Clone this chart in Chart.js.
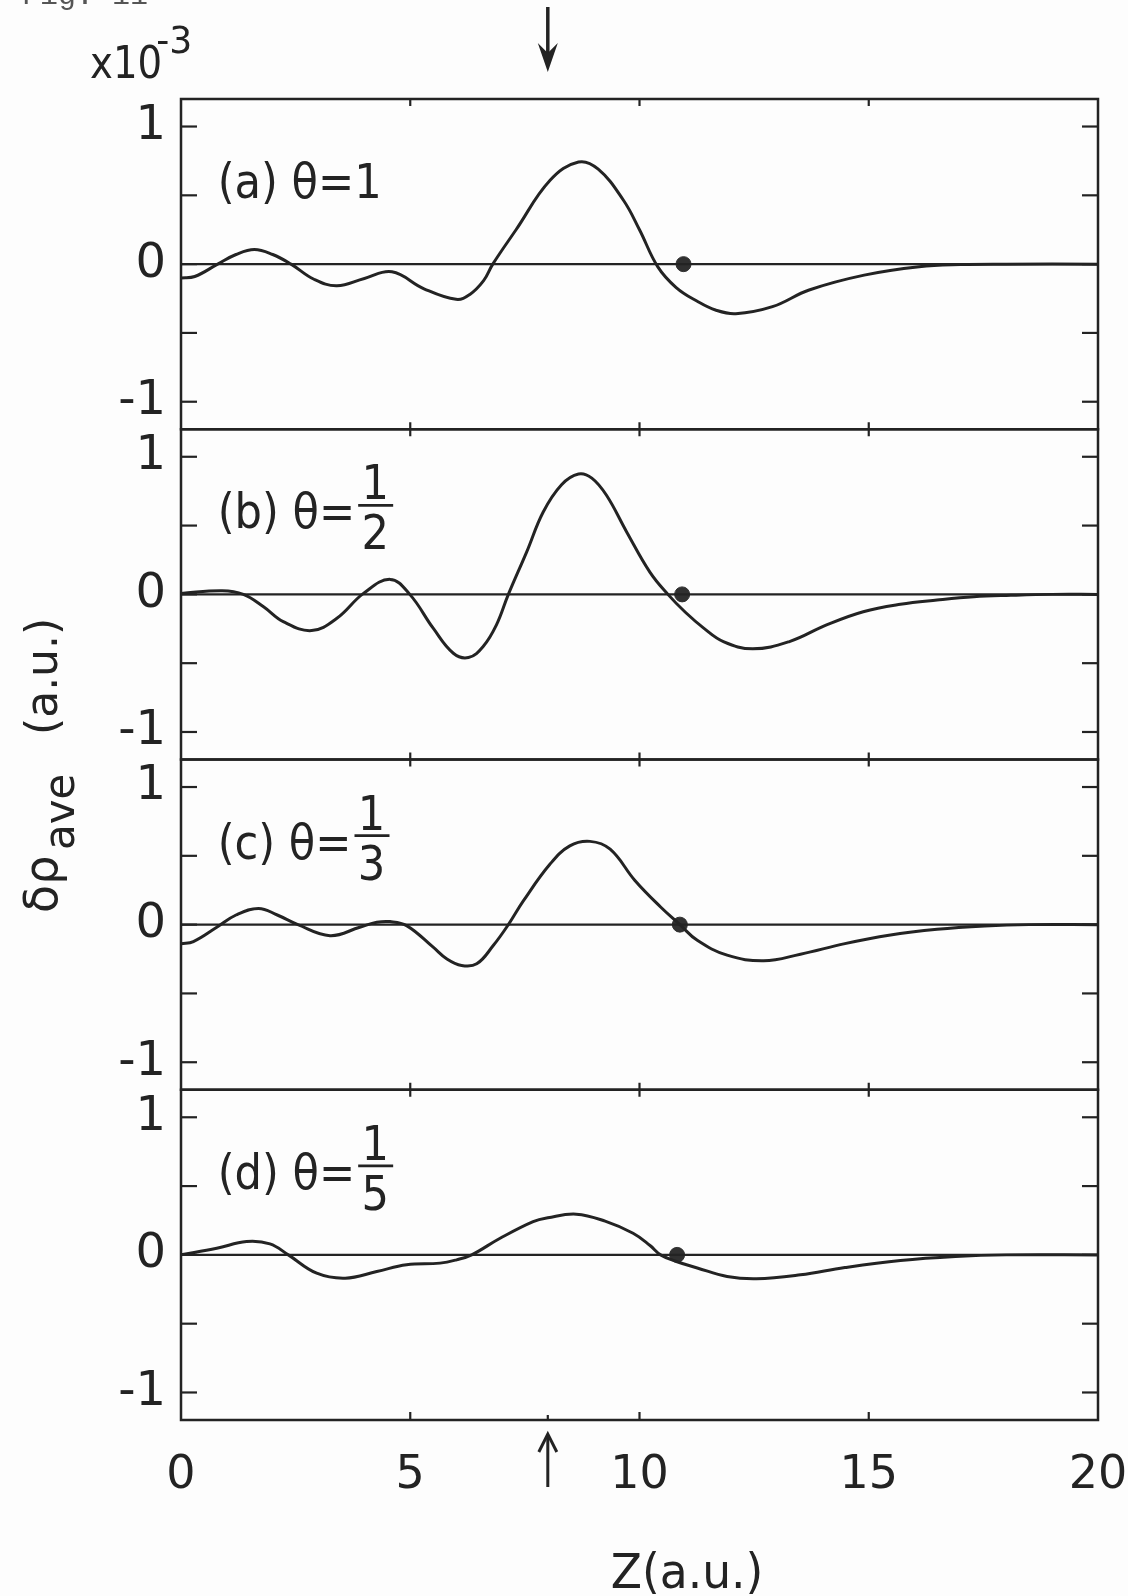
<!DOCTYPE html>
<html>
<head>
<meta charset="utf-8">
<script src="https://cdn.jsdelivr.net/npm/chart.js@4.4.1/dist/chart.umd.min.js"></script>
<style>
  html, body { margin: 0; padding: 0; background: #fdfdfd; }
  #wrap { width: 1128px; height: 1596px; }
</style>
</head>
<body>
<div id="wrap"><canvas id="fig" width="1128" height="1596"></canvas></div>
<script>
// Z (a.u.) positions and delta-rho_ave (x10^-3)
const zA   = [0, 0.3, 0.8, 1.2, 1.6, 2.0, 2.4, 2.9, 3.4, 4.0, 4.6, 5.3, 6.0, 6.3, 6.6, 6.8, 7.3, 8.05, 8.67, 9.1, 9.65, 10.0, 10.4, 10.8, 11.26, 11.67, 12.1, 12.9, 13.7, 14.9, 16.1, 17.0, 18.0, 20];
const rhoA = [-0.10, -0.09, 0.0, 0.07, 0.106, 0.07, 0.0, -0.11, -0.157, -0.104, -0.056, -0.179, -0.256, -0.22, -0.12, 0.0, 0.246, 0.609, 0.742, 0.69, 0.464, 0.25, -0.02, -0.17, -0.27, -0.335, -0.36, -0.309, -0.188, -0.080, -0.019, -0.003, 0, 0];

const zB   = [0, 0.9, 1.36, 1.8, 2.23, 2.85, 3.4, 3.98, 4.56, 4.99, 5.5, 5.94, 6.27, 6.59, 6.88, 7.14, 7.54, 7.9, 8.3, 8.67, 8.96, 9.28, 9.72, 10.23, 10.62, 11.0, 11.4, 11.83, 12.47, 13.27, 14.08, 14.88, 15.69, 16.49, 17.29, 18.1, 19, 20];
const rhoB = [0.007, 0.027, 0.0, -0.09, -0.198, -0.263, -0.174, 0.007, 0.109, 0.0, -0.246, -0.428, -0.459, -0.379, -0.222, 0.0, 0.309, 0.599, 0.797, 0.875, 0.845, 0.72, 0.454, 0.16, 0.0, -0.13, -0.245, -0.343, -0.396, -0.343, -0.222, -0.126, -0.072, -0.041, -0.017, -0.007, 0, 0];

const zC   = [0, 0.27, 0.78, 1.2, 1.69, 2.1, 2.55, 3.25, 3.9, 4.27, 4.56, 4.92, 5.5, 5.8, 6.12, 6.45, 6.81, 7.14, 7.47, 8.05, 8.48, 8.92, 9.36, 9.9, 10.46, 10.88, 11.26, 11.91, 12.71, 13.51, 14.48, 15.44, 16.49, 17.53, 18.5, 20];
const rhoC = [-0.14, -0.123, -0.019, 0.07, 0.118, 0.07, 0.0, -0.08, -0.019, 0.017, 0.022, -0.007, -0.164, -0.25, -0.297, -0.285, -0.152, 0.0, 0.174, 0.44, 0.572, 0.605, 0.548, 0.321, 0.128, 0.0, -0.114, -0.222, -0.263, -0.215, -0.138, -0.077, -0.034, -0.01, 0, 0];

const zD   = [0, 0.78, 1.43, 1.94, 2.34, 2.96, 3.58, 4.27, 4.92, 5.65, 6.01, 6.34, 6.96, 7.68, 8.0, 8.62, 9.25, 9.86, 10.23, 10.46, 10.82, 11.26, 11.91, 12.55, 13.51, 14.48, 15.69, 16.89, 18, 20];
const rhoD = [0, 0.048, 0.097, 0.08, 0.0, -0.133, -0.169, -0.121, -0.072, -0.06, -0.036, 0.0, 0.121, 0.242, 0.27, 0.296, 0.245, 0.157, 0.068, 0.0, -0.05, -0.095, -0.157, -0.174, -0.145, -0.092, -0.041, -0.012, 0, 0];

// filled dot on the zero line, one per panel
const dotZ = [10.96, 10.93, 10.88, 10.82];

const panelTags = ['(a)', '(b)', '(c)', '(d)'];
const thetaNum  = ['1', '1', '1', '1'];
const thetaDen  = [null, '2', '3', '5'];

const xTicks   = [0, 5, 10, 15, 20];
const xMarks   = [5, 10, 15];
const yTicks   = [-1, 0, 1];
const yMarks   = [-1, -0.5, 0, 0.5, 1];
const arrowZ   = 8;

const ink = '#232323';
const zs = [zA, zB, zC, zD];
const rhos = [rhoA, rhoB, rhoC, rhoD];
const ids = ['yA', 'yB', 'yC', 'yD'];

// text helper, sx squeezes glyphs horizontally; returns drawn width
function txt(ctx, s, x, y, size, align, sx) {
  sx = sx || 1;
  ctx.save();
  ctx.font = size + 'px "DejaVu Sans"';
  ctx.textAlign = align || 'left';
  ctx.textBaseline = 'alphabetic';
  ctx.translate(x, y);
  ctx.scale(sx, 1);
  ctx.fillText(s, 0, 0);
  const w = ctx.measureText(s).width * sx;
  ctx.restore();
  return w;
}

function seg(ctx, x1, y1, x2, y2) {
  ctx.beginPath();
  ctx.moveTo(x1, y1);
  ctx.lineTo(x2, y2);
  ctx.stroke();
}

const datasets = [];
ids.forEach((id, i) => {
  datasets.push({
    data: [{ x: 0, y: 0 }, { x: 20, y: 0 }],
    yAxisID: id, borderColor: ink, borderWidth: 2.2, pointRadius: 0,
  });
  datasets.push({
    data: zs[i].map((z, k) => ({ x: z, y: rhos[i][k] })),
    yAxisID: id, borderColor: ink, borderWidth: 3, pointRadius: 0,
    tension: 0.4,
  });
  datasets.push({
    data: [{ x: dotZ[i], y: 0 }],
    yAxisID: id, showLine: false, pointRadius: 7.5,
    pointBackgroundColor: '#303030', pointBorderColor: '#303030',
  });
});

const zeroPad = s => { s.paddingLeft = 0; s.paddingRight = 0; s.paddingTop = 0; s.paddingBottom = 0; };

const scales = {
  x: {
    type: 'linear', min: 0, max: 20, position: 'bottom',
    grid: { display: false, drawTicks: false }, border: { display: false },
    afterBuildTicks: s => { s.ticks = xTicks.map(v => ({ value: v })); },
    afterFit: s => { s.height = 176; zeroPad(s); },
    ticks: { color: ink, font: { family: 'DejaVu Sans', size: 46 }, padding: 28,
             maxRotation: 0, autoSkip: false, callback: v => String(v) },
  },
};
ids.forEach((id, i) => {
  scales[id] = {
    type: 'linear', position: 'left', stack: 'panels', stackWeight: 1, weight: 4 - i,
    min: -1.2, max: 1.2,
    grid: { display: false, drawTicks: false }, border: { display: false },
    afterBuildTicks: s => { s.ticks = yTicks.map(v => ({ value: v })); },
    afterFit: s => { s.width = 181; zeroPad(s); },
    ticks: { color: ink, font: { family: 'DejaVu Sans', size: 48 }, padding: 15,
             callback: v => String(v) },
  };
});

const figPlugin = {
  id: 'fig',
  beforeDraw(chart) {
    const ctx = chart.ctx;
    ctx.save();
    ctx.fillStyle = '#fdfdfd';
    ctx.fillRect(0, 0, chart.width, chart.height);
    ctx.restore();
  },
  afterDraw(chart) {
    const { ctx, chartArea: ca } = chart;
    const xs = chart.scales.x;
    ctx.save();
    ctx.strokeStyle = ink;
    ctx.fillStyle = ink;

    ids.forEach((id, i) => {
      const ys = chart.scales[id];
      ctx.lineWidth = 2.5;
      ctx.strokeRect(ca.left, ys.top, ca.right - ca.left, ys.bottom - ys.top);
      ctx.lineWidth = 2.2;
      yMarks.forEach(v => {
        const py = ys.getPixelForValue(v);
        seg(ctx, ca.left, py, ca.left + 16, py);
        seg(ctx, ca.right - 16, py, ca.right, py);
      });
      xMarks.forEach(v => {
        const px = xs.getPixelForValue(v);
        seg(ctx, px, ys.top - (i ? 7 : 0), px, ys.top + 7);
      });

      // panel label
      const lx = xs.getPixelForValue(0.8);
      const by = ys.getPixelForValue(0.48);
      const w = txt(ctx, panelTags[i] + ' θ=', lx, by, 48, 'left', 0.9);
      if (!thetaDen[i]) {
        txt(ctx, thetaNum[i], lx + w, by, 48, 'left', 0.9);
      } else {
        const fx = lx + w + 3;
        txt(ctx, thetaNum[i], fx + 17, by - 29, 48, 'center', 0.9);
        ctx.lineWidth = 2.6;
        seg(ctx, fx, by - 23, fx + 35, by - 23);
        txt(ctx, thetaDen[i], fx + 17, by + 21, 48, 'center', 0.9);
      }
    });

    // ticks on the bottom frame
    ctx.lineWidth = 2.2;
    xMarks.forEach(v => {
      const px = xs.getPixelForValue(v);
      seg(ctx, px, ca.bottom, px, ca.bottom - 8);
    });
    const ax = xs.getPixelForValue(arrowZ);
    seg(ctx, ax, ca.bottom, ax, ca.bottom - 5);

    // arrows marking Z = 8
    ctx.lineWidth = 3.5;
    seg(ctx, ax, 7, ax, 60);
    ctx.beginPath();
    ctx.moveTo(ax - 10, 43);
    ctx.lineTo(ax, 72);
    ctx.lineTo(ax + 10, 43);
    ctx.lineTo(ax, 53);
    ctx.closePath();
    ctx.fill();

    ctx.lineWidth = 3;
    seg(ctx, ax, 1436, ax, 1487);
    ctx.beginPath();
    ctx.moveTo(ax - 9, 1452);
    ctx.lineTo(ax, 1434);
    ctx.lineTo(ax + 9, 1452);
    ctx.stroke();

    // exponent
    const wx = txt(ctx, 'x10', 90, 78, 44, 'left', 0.88);
    txt(ctx, '-3', 90 + wx - 6, 53, 38, 'left', 0.95);

    // figure number, mostly cut off at the top edge
    ctx.fillStyle = '#555';
    ctx.font = '30px "Liberation Mono"';
    ctx.textAlign = 'left';
    ctx.textBaseline = 'alphabetic';
    ctx.fillText('Fig. 11', 22, 4);
    ctx.fillStyle = ink;

    // axis titles
    txt(ctx, 'Z(a.u.)', 687, 1588, 48, 'center', 0.95);

    ctx.save();
    ctx.translate(57, 913);
    ctx.rotate(-Math.PI / 2);
    txt(ctx, 'δρ', 0, 0, 46);
    txt(ctx, 'ave', 63, 17, 42);
    txt(ctx, '(a.u.)', 178, 0, 44);
    ctx.restore();

    ctx.restore();
  },
};

new Chart(document.getElementById('fig'), {
  type: 'line',
  data: { datasets },
  options: {
    responsive: false,
    animation: false,
    devicePixelRatio: 1,
    layout: { padding: { top: 99, right: 30, left: 0, bottom: 0 } },
    plugins: { legend: { display: false }, tooltip: { enabled: false } },
    scales,
  },
  plugins: [figPlugin],
});
</script>
</body>
</html>
